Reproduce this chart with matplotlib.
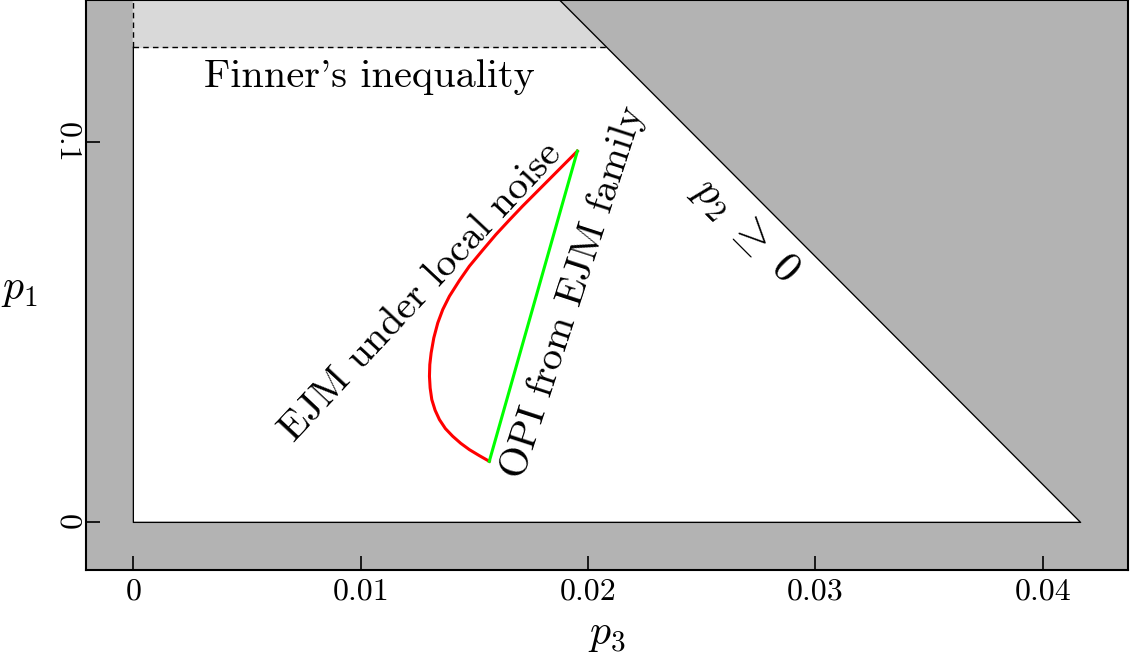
import numpy as np
import matplotlib.pyplot as plt

plt.rcParams["font.family"] = ["cmr10", "DejaVu Serif"]
plt.rcParams["mathtext.fontset"] = "cm"
plt.rcParams["axes.formatter.use_mathtext"] = True

# EJM under local noise (p3, p1)
ejm_p3 = [0.019532, 0.019020, 0.018436, 0.017778, 0.017120, 0.016535, 0.015950,
          0.015365, 0.014781, 0.014342, 0.013904, 0.013611, 0.013392, 0.013217,
          0.013100, 0.013041, 0.013026, 0.013056, 0.013129, 0.013275, 0.013465,
          0.013728, 0.014050, 0.014401, 0.014781, 0.015219, 0.015658]
ejm_p1 = [0.097718, 0.094647, 0.091134, 0.087183, 0.083232, 0.079545, 0.075770,
          0.071645, 0.067430, 0.063656, 0.059529, 0.056018, 0.052507, 0.048556,
          0.044607, 0.041533, 0.038460, 0.035389, 0.032315, 0.029506, 0.027048,
          0.024678, 0.022658, 0.020815, 0.019147, 0.017567, 0.016073]

# OPI from EJM family: straight segment between the curve's end points
opi_p3 = [0.015658, 0.019532]
opi_p1 = [0.016073, 0.097718]

p3_max = 1 / 24      # p2 >= 0 boundary: p1 = 1/4 - 6 p3
finner = 1 / 8       # Finner's inequality p1 <= 1/8

xticks = [0, 0.01, 0.02, 0.03, 0.04]
xticklabels = ["0", "0.01", "0.02", "0.03", "0.04"]
yticks = [0, 0.1]
yticklabels = ["0", "0.1"]


def diag(p1):
    return (0.25 - p1) / 6


fig = plt.figure(figsize=(11.31, 6.55), dpi=100)
ax = fig.add_axes([0.076, 0.13, 0.9213, 0.87])
ax.set_facecolor("#b3b3b3")

# allowed region and the part cut off by Finner's inequality
ax.fill([0, p3_max, diag(finner), 0], [0, 0, finner, finner],
        color="white", zorder=1)
ax.fill([0, diag(finner), 0], [finner, finner, 0.25],
        color="#d9d9d9", zorder=1)
ax.plot([0, 0, p3_max, 0], [finner, 0, 0, 0.25], color="black", lw=1.0, zorder=2)
ax.plot([0, diag(finner)], [finner, finner], color="black", lw=1.0,
        ls=(0, (4, 3)), zorder=2)
ax.plot([0, 0], [finner, 0.25], color="black", lw=1.0, ls=(0, (4, 3)), zorder=2)

ax.plot(ejm_p3, ejm_p1, color="red", lw=2.2, zorder=3, solid_joinstyle="round")
ax.plot(opi_p3, opi_p1, color="#00ff00", lw=2.2, zorder=3)

ax.text(0.0104, 0.1147, "Finner's inequality", fontsize=29,
        ha="center", va="baseline")
ax.text(0.01268, 0.0607, "EJM under local noise", fontsize=29,
        rotation=47, rotation_mode="anchor", ha="center", va="center")
ax.text(0.01935, 0.0607, "OPI from EJM family", fontsize=29,
        rotation=72, rotation_mode="anchor", ha="center", va="center")
ax.text(0.02690, 0.0768, r"$p_2 \;\geq\; 0$", fontsize=31,
        rotation=-45, rotation_mode="anchor", ha="center", va="center")

ax.set_xlim(-0.05 / 24, 1.05 / 24)
ax.set_ylim(-0.0125, 0.1375)
ax.set_xticks(xticks)
ax.set_xticklabels(xticklabels)
ax.set_yticks(yticks)
ax.set_yticklabels(yticklabels, rotation=-90, va="center")
ax.tick_params(direction="in", length=10, width=1.2, labelsize=23, pad=6)
ax.tick_params(axis="y", pad=4)
ax.set_xlabel(r"$p_3$", fontsize=30, labelpad=8)
ax.set_ylabel(r"$p_1$", fontsize=30, rotation=0, ha="center", va="center")
ax.yaxis.set_label_coords(-0.064, 0.49)
for s in ax.spines.values():
    s.set_linewidth(1.5)

fig.savefig("out.png", dpi=100)
